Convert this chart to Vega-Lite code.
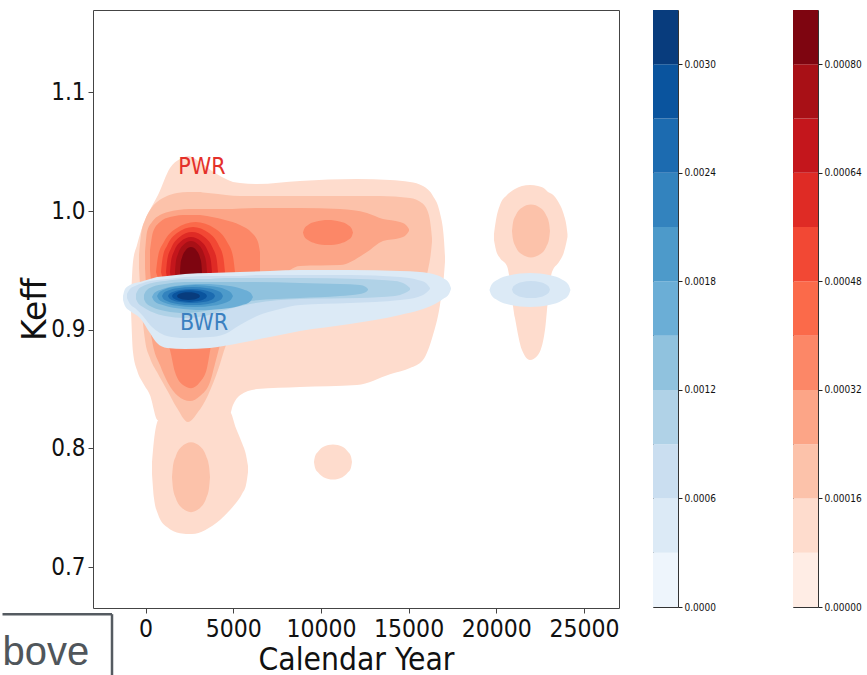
{
  "$schema": "https://vega.github.io/schema/vega-lite/v6.json",
  "padding": {"left": 0, "top": 9, "right": 0, "bottom": 0},
  "background": "white",
  "config": {"view": {"stroke": "#444"}},
  "bounds": "flush",
  "spacing": 34,
  "resolve": {"scale": {"fill": "independent"}},
  "hconcat": [
    {
      "width": 526,
      "height": 598,
      "view": {"stroke": "#444", "strokeWidth": 1},
      "data": {"values": [
        {"c":"r2","g":"a","x":-833,"y":0.9250,"y2":0.9166},
        {"c":"r2","g":"a","x":-719,"y":0.9571,"y2":0.8812},
        {"c":"r2","g":"a","x":-491,"y":0.9714,"y2":0.8660},
        {"c":"r2","g":"a","x":-149,"y":0.9883,"y2":0.8551},
        {"c":"r2","g":"a","x":251,"y":1.0009,"y2":0.8449},
        {"c":"r2","g":"a","x":707,"y":1.0135,"y2":0.8239},
        {"c":"r2","g":"a","x":1391,"y":1.0363,"y2":0.8239},
        {"c":"r2","g":"a","x":1962,"y":1.0439,"y2":0.8239},
        {"c":"r2","g":"a","x":2418,"y":1.0464,"y2":0.8239},
        {"c":"r2","g":"a","x":3102,"y":1.0414,"y2":0.8239},
        {"c":"r2","g":"a","x":3958,"y":1.0321,"y2":0.8239},
        {"c":"r2","g":"a","x":4699,"y":1.0262,"y2":0.8239},
        {"c":"r2","g":"a","x":4984,"y":1.0245,"y2":0.8365},
        {"c":"r2","g":"a","x":5383,"y":1.0237,"y2":0.8449},
        {"c":"r2","g":"a","x":6353,"y":1.0228,"y2":0.8500},
        {"c":"r2","g":"a","x":8805,"y":1.0254,"y2":0.8517},
        {"c":"r2","g":"a","x":12056,"y":1.0270,"y2":0.8534},
        {"c":"r2","g":"a","x":13938,"y":1.0262,"y2":0.8626},
        {"c":"r2","g":"a","x":15079,"y":1.0245,"y2":0.8677},
        {"c":"r2","g":"a","x":15820,"y":1.0211,"y2":0.8745},
        {"c":"r2","g":"a","x":16390,"y":1.0127,"y2":0.8955},
        {"c":"r2","g":"a","x":16789,"y":0.9984,"y2":0.9208},
        {"c":"r2","g":"a","x":17018,"y":0.9756,"y2":0.9461},
        {"c":"r2","g":"a","x":17075,"y":0.9621,"y2":0.9571},
        {"c":"r2","g":"b","x":365,"y":0.7885,"y2":0.7784},
        {"c":"r2","g":"b","x":479,"y":0.8070,"y2":0.7581},
        {"c":"r2","g":"b","x":707,"y":0.8239,"y2":0.7446},
        {"c":"r2","g":"b","x":1220,"y":0.8323,"y2":0.7337},
        {"c":"r2","g":"b","x":1962,"y":0.8323,"y2":0.7286},
        {"c":"r2","g":"b","x":2646,"y":0.8323,"y2":0.7278},
        {"c":"r2","g":"b","x":3387,"y":0.8323,"y2":0.7311},
        {"c":"r2","g":"b","x":4243,"y":0.8323,"y2":0.7396},
        {"c":"r2","g":"b","x":4813,"y":0.8306,"y2":0.7480},
        {"c":"r2","g":"b","x":5155,"y":0.8171,"y2":0.7539},
        {"c":"r2","g":"b","x":5497,"y":0.8045,"y2":0.7615},
        {"c":"r2","g":"b","x":5726,"y":0.7944,"y2":0.7691},
        {"c":"r2","g":"b","x":5840,"y":0.7851,"y2":0.7800},
        {"c":"r2","g":"c","x":9604,"y":0.7885,"y2":0.7885},
        {"c":"r2","g":"c","x":9661,"y":0.7931,"y2":0.7838},
        {"c":"r2","g":"c","x":9843,"y":0.7973,"y2":0.7796},
        {"c":"r2","g":"c","x":10145,"y":0.8013,"y2":0.7757},
        {"c":"r2","g":"c","x":10687,"y":0.8032,"y2":0.7737},
        {"c":"r2","g":"c","x":11229,"y":0.8013,"y2":0.7757},
        {"c":"r2","g":"c","x":11531,"y":0.7973,"y2":0.7796},
        {"c":"r2","g":"c","x":11714,"y":0.7931,"y2":0.7838},
        {"c":"r2","g":"c","x":11771,"y":0.7885,"y2":0.7885},
        {"c":"r2","g":"d","x":19869,"y":0.9807,"y2":0.9756},
        {"c":"r2","g":"d","x":19983,"y":0.9925,"y2":0.9672},
        {"c":"r2","g":"d","x":20211,"y":1.0051,"y2":0.9604},
        {"c":"r2","g":"d","x":20610,"y":1.0135,"y2":0.9537},
        {"c":"r2","g":"d","x":21067,"y":1.0186,"y2":0.9099},
        {"c":"r2","g":"d","x":21466,"y":1.0211,"y2":0.8829},
        {"c":"r2","g":"d","x":21922,"y":1.0220,"y2":0.8745},
        {"c":"r2","g":"d","x":22378,"y":1.0211,"y2":0.8787},
        {"c":"r2","g":"d","x":22778,"y":1.0186,"y2":0.8997},
        {"c":"r2","g":"d","x":22949,"y":1.0161,"y2":0.9250},
        {"c":"r2","g":"d","x":23177,"y":1.0144,"y2":0.9486},
        {"c":"r2","g":"d","x":23576,"y":1.0068,"y2":0.9571},
        {"c":"r2","g":"d","x":23861,"y":0.9967,"y2":0.9655},
        {"c":"r2","g":"d","x":24004,"y":0.9874,"y2":0.9739},
        {"c":"r2","g":"d","x":24061,"y":0.9807,"y2":0.9781},
        {"c":"r3","g":"a","x":-377,"y":0.9630,"y2":0.9520},
        {"c":"r3","g":"a","x":-263,"y":0.9798,"y2":0.9250},
        {"c":"r3","g":"a","x":-34,"y":0.9925,"y2":0.8913},
        {"c":"r3","g":"a","x":251,"y":1.0009,"y2":0.8761},
        {"c":"r3","g":"a","x":650,"y":1.0076,"y2":0.8643},
        {"c":"r3","g":"a","x":1220,"y":1.0127,"y2":0.8492},
        {"c":"r3","g":"a","x":1791,"y":1.0152,"y2":0.8340},
        {"c":"r3","g":"a","x":2418,"y":1.0161,"y2":0.8222},
        {"c":"r3","g":"a","x":2988,"y":1.0161,"y2":0.8306},
        {"c":"r3","g":"a","x":3558,"y":1.0152,"y2":0.8449},
        {"c":"r3","g":"a","x":4129,"y":1.0144,"y2":0.8660},
        {"c":"r3","g":"a","x":4585,"y":1.0135,"y2":0.8871},
        {"c":"r3","g":"a","x":5383,"y":1.0127,"y2":0.9082},
        {"c":"r3","g":"a","x":8805,"y":1.0127,"y2":0.9250},
        {"c":"r3","g":"a","x":13368,"y":1.0127,"y2":0.9250},
        {"c":"r3","g":"a","x":15079,"y":1.0110,"y2":0.9292},
        {"c":"r3","g":"a","x":15763,"y":1.0068,"y2":0.9377},
        {"c":"r3","g":"a","x":16105,"y":0.9992,"y2":0.9503},
        {"c":"r3","g":"a","x":16276,"y":0.9857,"y2":0.9655},
        {"c":"r3","g":"a","x":16333,"y":0.9773,"y2":0.9739},
        {"c":"r3","g":"b","x":1505,"y":0.7758,"y2":0.7758},
        {"c":"r3","g":"b","x":1562,"y":0.7851,"y2":0.7665},
        {"c":"r3","g":"b","x":1722,"y":0.7935,"y2":0.7581},
        {"c":"r3","g":"b","x":2047,"y":0.8014,"y2":0.7503},
        {"c":"r3","g":"b","x":2589,"y":0.8053,"y2":0.7463},
        {"c":"r3","g":"b","x":3131,"y":0.8014,"y2":0.7503},
        {"c":"r3","g":"b","x":3456,"y":0.7935,"y2":0.7581},
        {"c":"r3","g":"b","x":3616,"y":0.7851,"y2":0.7665},
        {"c":"r3","g":"b","x":3673,"y":0.7758,"y2":0.7758},
        {"c":"r3","g":"c","x":20896,"y":0.9832,"y2":0.9832},
        {"c":"r3","g":"c","x":20953,"y":0.9902,"y2":0.9762},
        {"c":"r3","g":"c","x":21112,"y":0.9966,"y2":0.9698},
        {"c":"r3","g":"c","x":21437,"y":1.0026,"y2":0.9638},
        {"c":"r3","g":"c","x":21979,"y":1.0055,"y2":0.9609},
        {"c":"r3","g":"c","x":22521,"y":1.0026,"y2":0.9638},
        {"c":"r3","g":"c","x":22846,"y":0.9966,"y2":0.9698},
        {"c":"r3","g":"c","x":23006,"y":0.9902,"y2":0.9762},
        {"c":"r3","g":"c","x":23063,"y":0.9832,"y2":0.9832},
        {"c":"r4","g":"a","x":-34,"y":0.9655,"y2":0.9520},
        {"c":"r4","g":"a","x":80,"y":0.9824,"y2":0.9250},
        {"c":"r4","g":"a","x":365,"y":0.9908,"y2":0.8913},
        {"c":"r4","g":"a","x":821,"y":0.9967,"y2":0.8702},
        {"c":"r4","g":"a","x":1277,"y":0.9992,"y2":0.8551},
        {"c":"r4","g":"a","x":1848,"y":1.0009,"y2":0.8441},
        {"c":"r4","g":"a","x":2532,"y":1.0017,"y2":0.8399},
        {"c":"r4","g":"a","x":3102,"y":1.0017,"y2":0.8441},
        {"c":"r4","g":"a","x":3673,"y":1.0017,"y2":0.8559},
        {"c":"r4","g":"a","x":4015,"y":1.0017,"y2":0.8745},
        {"c":"r4","g":"a","x":4528,"y":1.0017,"y2":0.8997},
        {"c":"r4","g":"a","x":6524,"y":1.0026,"y2":0.9250},
        {"c":"r4","g":"a","x":8805,"y":1.0026,"y2":0.9537},
        {"c":"r4","g":"a","x":11086,"y":1.0017,"y2":0.9545},
        {"c":"r4","g":"a","x":12626,"y":0.9984,"y2":0.9655},
        {"c":"r4","g":"a","x":13539,"y":0.9933,"y2":0.9748},
        {"c":"r4","g":"a","x":14508,"y":0.9908,"y2":0.9773},
        {"c":"r4","g":"a","x":14850,"y":0.9883,"y2":0.9798},
        {"c":"r4","g":"a","x":15021,"y":0.9849,"y2":0.9832},
        {"c":"r5","g":"a","x":251,"y":0.9672,"y2":0.9503},
        {"c":"r5","g":"a","x":422,"y":0.9824,"y2":0.9250},
        {"c":"r5","g":"a","x":821,"y":0.9908,"y2":0.8997},
        {"c":"r5","g":"a","x":1391,"y":0.9950,"y2":0.8829},
        {"c":"r5","g":"a","x":1676,"y":0.9958,"y2":0.8643},
        {"c":"r5","g":"a","x":2133,"y":0.9967,"y2":0.8534},
        {"c":"r5","g":"a","x":2589,"y":0.9967,"y2":0.8508},
        {"c":"r5","g":"a","x":3102,"y":0.9967,"y2":0.8559},
        {"c":"r5","g":"a","x":3501,"y":0.9958,"y2":0.8677},
        {"c":"r5","g":"a","x":3787,"y":0.9950,"y2":0.8913},
        {"c":"r5","g":"a","x":4528,"y":0.9925,"y2":0.9250},
        {"c":"r5","g":"a","x":5383,"y":0.9883,"y2":0.9250},
        {"c":"r5","g":"a","x":6068,"y":0.9815,"y2":0.9250},
        {"c":"r5","g":"a","x":6410,"y":0.9739,"y2":0.9335},
        {"c":"r5","g":"a","x":6524,"y":0.9655,"y2":0.9419},
        {"c":"r5","g":"b","x":8976,"y":0.9819,"y2":0.9819},
        {"c":"r5","g":"b","x":9048,"y":0.9852,"y2":0.9786},
        {"c":"r5","g":"b","x":9261,"y":0.9883,"y2":0.9756},
        {"c":"r5","g":"b","x":9689,"y":0.9910,"y2":0.9728},
        {"c":"r5","g":"b","x":10402,"y":0.9925,"y2":0.9714},
        {"c":"r5","g":"b","x":11115,"y":0.9910,"y2":0.9728},
        {"c":"r5","g":"b","x":11543,"y":0.9883,"y2":0.9756},
        {"c":"r5","g":"b","x":11756,"y":0.9852,"y2":0.9786},
        {"c":"r5","g":"b","x":11828,"y":0.9819,"y2":0.9819},
        {"c":"r6","g":"a","x":593,"y":0.9486,"y2":0.9486},
        {"c":"r6","g":"a","x":707,"y":0.9618,"y2":0.9439},
        {"c":"r6","g":"a","x":1043,"y":0.9739,"y2":0.9395},
        {"c":"r6","g":"a","x":1719,"y":0.9851,"y2":0.9355},
        {"c":"r6","g":"a","x":2846,"y":0.9908,"y2":0.9335},
        {"c":"r6","g":"a","x":3972,"y":0.9851,"y2":0.9355},
        {"c":"r6","g":"a","x":4648,"y":0.9739,"y2":0.9395},
        {"c":"r6","g":"a","x":4984,"y":0.9618,"y2":0.9439},
        {"c":"r6","g":"a","x":5098,"y":0.9486,"y2":0.9486},
        {"c":"r7","g":"a","x":878,"y":0.9486,"y2":0.9486},
        {"c":"r7","g":"a","x":969,"y":0.9604,"y2":0.9439},
        {"c":"r7","g":"a","x":1243,"y":0.9714,"y2":0.9395},
        {"c":"r7","g":"a","x":1791,"y":0.9815,"y2":0.9355},
        {"c":"r7","g":"a","x":2703,"y":0.9866,"y2":0.9335},
        {"c":"r7","g":"a","x":3616,"y":0.9815,"y2":0.9355},
        {"c":"r7","g":"a","x":4163,"y":0.9714,"y2":0.9395},
        {"c":"r7","g":"a","x":4437,"y":0.9604,"y2":0.9439},
        {"c":"r7","g":"a","x":4528,"y":0.9486,"y2":0.9486},
        {"c":"r8","g":"a","x":1163,"y":0.9486,"y2":0.9486},
        {"c":"r8","g":"a","x":1237,"y":0.9592,"y2":0.9439},
        {"c":"r8","g":"a","x":1460,"y":0.9689,"y2":0.9395},
        {"c":"r8","g":"a","x":1905,"y":0.9778,"y2":0.9355},
        {"c":"r8","g":"a","x":2646,"y":0.9824,"y2":0.9335},
        {"c":"r8","g":"a","x":3387,"y":0.9778,"y2":0.9355},
        {"c":"r8","g":"a","x":3832,"y":0.9689,"y2":0.9395},
        {"c":"r8","g":"a","x":4055,"y":0.9592,"y2":0.9439},
        {"c":"r8","g":"a","x":4129,"y":0.9486,"y2":0.9486},
        {"c":"r9","g":"a","x":1391,"y":0.9486,"y2":0.9486},
        {"c":"r9","g":"a","x":1451,"y":0.9578,"y2":0.9439},
        {"c":"r9","g":"a","x":1631,"y":0.9663,"y2":0.9395},
        {"c":"r9","g":"a","x":1990,"y":0.9742,"y2":0.9355},
        {"c":"r9","g":"a","x":2589,"y":0.9781,"y2":0.9335},
        {"c":"r9","g":"a","x":3188,"y":0.9742,"y2":0.9355},
        {"c":"r9","g":"a","x":3547,"y":0.9663,"y2":0.9395},
        {"c":"r9","g":"a","x":3727,"y":0.9578,"y2":0.9439},
        {"c":"r9","g":"a","x":3787,"y":0.9486,"y2":0.9486},
        {"c":"r10","g":"a","x":1676,"y":0.9486,"y2":0.9486},
        {"c":"r10","g":"a","x":1722,"y":0.9568,"y2":0.9439},
        {"c":"r10","g":"a","x":1859,"y":0.9643,"y2":0.9395},
        {"c":"r10","g":"a","x":2133,"y":0.9712,"y2":0.9355},
        {"c":"r10","g":"a","x":2589,"y":0.9748,"y2":0.9335},
        {"c":"r10","g":"a","x":3045,"y":0.9712,"y2":0.9355},
        {"c":"r10","g":"a","x":3319,"y":0.9643,"y2":0.9395},
        {"c":"r10","g":"a","x":3456,"y":0.9568,"y2":0.9439},
        {"c":"r10","g":"a","x":3501,"y":0.9486,"y2":0.9486},
        {"c":"r11","g":"a","x":1962,"y":0.9486,"y2":0.9486},
        {"c":"r11","g":"a","x":1993,"y":0.9552,"y2":0.9439},
        {"c":"r11","g":"a","x":2087,"y":0.9613,"y2":0.9395},
        {"c":"r11","g":"a","x":2275,"y":0.9669,"y2":0.9355},
        {"c":"r11","g":"a","x":2589,"y":0.9697,"y2":0.9335},
        {"c":"r11","g":"a","x":2903,"y":0.9669,"y2":0.9355},
        {"c":"r11","g":"a","x":3091,"y":0.9613,"y2":0.9395},
        {"c":"r11","g":"a","x":3185,"y":0.9552,"y2":0.9439},
        {"c":"r11","g":"a","x":3216,"y":0.9486,"y2":0.9486},
        {"c":"b2","g":"a","x":-1289,"y":0.9284,"y2":0.9250},
        {"c":"b2","g":"a","x":-1175,"y":0.9343,"y2":0.9200},
        {"c":"b2","g":"a","x":-890,"y":0.9377,"y2":0.9158},
        {"c":"b2","g":"a","x":-320,"y":0.9402,"y2":0.9099},
        {"c":"b2","g":"a","x":251,"y":0.9427,"y2":0.8972},
        {"c":"b2","g":"a","x":650,"y":0.9444,"y2":0.8888},
        {"c":"b2","g":"a","x":1220,"y":0.9453,"y2":0.8846},
        {"c":"b2","g":"a","x":2247,"y":0.9470,"y2":0.8837},
        {"c":"b2","g":"a","x":3673,"y":0.9478,"y2":0.8846},
        {"c":"b2","g":"a","x":5383,"y":0.9486,"y2":0.8888},
        {"c":"b2","g":"a","x":7094,"y":0.9495,"y2":0.8938},
        {"c":"b2","g":"a","x":8805,"y":0.9503,"y2":0.8989},
        {"c":"b2","g":"a","x":11657,"y":0.9503,"y2":0.9048},
        {"c":"b2","g":"a","x":14508,"y":0.9495,"y2":0.9124},
        {"c":"b2","g":"a","x":15649,"y":0.9486,"y2":0.9166},
        {"c":"b2","g":"a","x":16390,"y":0.9470,"y2":0.9208},
        {"c":"b2","g":"a","x":16960,"y":0.9436,"y2":0.9259},
        {"c":"b2","g":"a","x":17303,"y":0.9394,"y2":0.9301},
        {"c":"b2","g":"a","x":17417,"y":0.9351,"y2":0.9343},
        {"c":"b2","g":"r","x":19612,"y":0.9335,"y2":0.9335},
        {"c":"b2","g":"r","x":19726,"y":0.9380,"y2":0.9290},
        {"c":"b2","g":"r","x":20074,"y":0.9421,"y2":0.9249},
        {"c":"b2","g":"r","x":20767,"y":0.9459,"y2":0.9211},
        {"c":"b2","g":"r","x":21922,"y":0.9478,"y2":0.9192},
        {"c":"b2","g":"r","x":23077,"y":0.9459,"y2":0.9211},
        {"c":"b2","g":"r","x":23770,"y":0.9421,"y2":0.9249},
        {"c":"b2","g":"r","x":24118,"y":0.9380,"y2":0.9290},
        {"c":"b2","g":"r","x":24232,"y":0.9335,"y2":0.9335},
        {"c":"b3","g":"a","x":-1061,"y":0.9301,"y2":0.9267},
        {"c":"b3","g":"a","x":-890,"y":0.9343,"y2":0.9217},
        {"c":"b3","g":"a","x":-605,"y":0.9368,"y2":0.9183},
        {"c":"b3","g":"a","x":-149,"y":0.9394,"y2":0.9115},
        {"c":"b3","g":"a","x":251,"y":0.9410,"y2":0.9040},
        {"c":"b3","g":"a","x":650,"y":0.9419,"y2":0.8989},
        {"c":"b3","g":"a","x":1220,"y":0.9427,"y2":0.8947},
        {"c":"b3","g":"a","x":2247,"y":0.9444,"y2":0.8930},
        {"c":"b3","g":"a","x":3673,"y":0.9453,"y2":0.8938},
        {"c":"b3","g":"a","x":4528,"y":0.9453,"y2":0.8964},
        {"c":"b3","g":"a","x":5383,"y":0.9453,"y2":0.9040},
        {"c":"b3","g":"a","x":6353,"y":0.9461,"y2":0.9115},
        {"c":"b3","g":"a","x":7665,"y":0.9461,"y2":0.9174},
        {"c":"b3","g":"a","x":8805,"y":0.9461,"y2":0.9208},
        {"c":"b3","g":"a","x":11657,"y":0.9461,"y2":0.9225},
        {"c":"b3","g":"a","x":14508,"y":0.9444,"y2":0.9250},
        {"c":"b3","g":"a","x":15535,"y":0.9419,"y2":0.9276},
        {"c":"b3","g":"a","x":15991,"y":0.9394,"y2":0.9309},
        {"c":"b3","g":"a","x":16219,"y":0.9351,"y2":0.9343},
        {"c":"b3","g":"r","x":20896,"y":0.9339,"y2":0.9339},
        {"c":"b3","g":"r","x":20953,"y":0.9361,"y2":0.9317},
        {"c":"b3","g":"r","x":21112,"y":0.9382,"y2":0.9296},
        {"c":"b3","g":"r","x":21437,"y":0.9401,"y2":0.9277},
        {"c":"b3","g":"r","x":21979,"y":0.9411,"y2":0.9267},
        {"c":"b3","g":"r","x":22521,"y":0.9401,"y2":0.9277},
        {"c":"b3","g":"r","x":22846,"y":0.9382,"y2":0.9296},
        {"c":"b3","g":"r","x":23006,"y":0.9361,"y2":0.9317},
        {"c":"b3","g":"r","x":23063,"y":0.9339,"y2":0.9339},
        {"c":"b4","g":"a","x":-548,"y":0.9301,"y2":0.9259},
        {"c":"b4","g":"a","x":-434,"y":0.9335,"y2":0.9225},
        {"c":"b4","g":"a","x":-149,"y":0.9368,"y2":0.9191},
        {"c":"b4","g":"a","x":365,"y":0.9394,"y2":0.9149},
        {"c":"b4","g":"a","x":1106,"y":0.9410,"y2":0.9115},
        {"c":"b4","g":"a","x":2247,"y":0.9427,"y2":0.9099},
        {"c":"b4","g":"a","x":3387,"y":0.9427,"y2":0.9115},
        {"c":"b4","g":"a","x":4528,"y":0.9436,"y2":0.9166},
        {"c":"b4","g":"a","x":5954,"y":0.9436,"y2":0.9217},
        {"c":"b4","g":"a","x":8805,"y":0.9436,"y2":0.9259},
        {"c":"b4","g":"a","x":12227,"y":0.9427,"y2":0.9267},
        {"c":"b4","g":"a","x":14223,"y":0.9410,"y2":0.9284},
        {"c":"b4","g":"a","x":14793,"y":0.9385,"y2":0.9309},
        {"c":"b4","g":"a","x":15079,"y":0.9351,"y2":0.9335},
        {"c":"b5","g":"a","x":-92,"y":0.9292,"y2":0.9259},
        {"c":"b5","g":"a","x":23,"y":0.9326,"y2":0.9225},
        {"c":"b5","g":"a","x":365,"y":0.9360,"y2":0.9191},
        {"c":"b5","g":"a","x":1106,"y":0.9385,"y2":0.9158},
        {"c":"b5","g":"a","x":2247,"y":0.9402,"y2":0.9141},
        {"c":"b5","g":"a","x":3387,"y":0.9402,"y2":0.9158},
        {"c":"b5","g":"a","x":4528,"y":0.9402,"y2":0.9200},
        {"c":"b5","g":"a","x":5954,"y":0.9402,"y2":0.9242},
        {"c":"b5","g":"a","x":8805,"y":0.9394,"y2":0.9267},
        {"c":"b5","g":"a","x":11086,"y":0.9385,"y2":0.9284},
        {"c":"b5","g":"a","x":12227,"y":0.9377,"y2":0.9301},
        {"c":"b5","g":"a","x":12569,"y":0.9360,"y2":0.9318},
        {"c":"b5","g":"a","x":12683,"y":0.9343,"y2":0.9335},
        {"c":"b6","g":"a","x":365,"y":0.9276,"y2":0.9276},
        {"c":"b6","g":"a","x":507,"y":0.9311,"y2":0.9241},
        {"c":"b6","g":"a","x":941,"y":0.9342,"y2":0.9210},
        {"c":"b6","g":"a","x":1805,"y":0.9371,"y2":0.9181},
        {"c":"b6","g":"a","x":3245,"y":0.9386,"y2":0.9166},
        {"c":"b6","g":"a","x":4685,"y":0.9371,"y2":0.9181},
        {"c":"b6","g":"a","x":5549,"y":0.9342,"y2":0.9210},
        {"c":"b6","g":"a","x":5982,"y":0.9311,"y2":0.9241},
        {"c":"b6","g":"a","x":6125,"y":0.9276,"y2":0.9276},
        {"c":"b7","g":"a","x":650,"y":0.9284,"y2":0.9284},
        {"c":"b7","g":"a","x":758,"y":0.9313,"y2":0.9255},
        {"c":"b7","g":"a","x":1083,"y":0.9340,"y2":0.9228},
        {"c":"b7","g":"a","x":1734,"y":0.9364,"y2":0.9204},
        {"c":"b7","g":"a","x":2817,"y":0.9377,"y2":0.9191},
        {"c":"b7","g":"a","x":3901,"y":0.9364,"y2":0.9204},
        {"c":"b7","g":"a","x":4551,"y":0.9340,"y2":0.9228},
        {"c":"b7","g":"a","x":4876,"y":0.9313,"y2":0.9255},
        {"c":"b7","g":"a","x":4984,"y":0.9284,"y2":0.9284},
        {"c":"b8","g":"a","x":935,"y":0.9284,"y2":0.9284},
        {"c":"b8","g":"a","x":1021,"y":0.9308,"y2":0.9260},
        {"c":"b8","g":"a","x":1283,"y":0.9330,"y2":0.9239},
        {"c":"b8","g":"a","x":1805,"y":0.9350,"y2":0.9218},
        {"c":"b8","g":"a","x":2675,"y":0.9360,"y2":0.9208},
        {"c":"b8","g":"a","x":3544,"y":0.9350,"y2":0.9218},
        {"c":"b8","g":"a","x":4066,"y":0.9330,"y2":0.9239},
        {"c":"b8","g":"a","x":4328,"y":0.9308,"y2":0.9260},
        {"c":"b8","g":"a","x":4414,"y":0.9284,"y2":0.9284},
        {"c":"b9","g":"a","x":1277,"y":0.9284,"y2":0.9284},
        {"c":"b9","g":"a","x":1346,"y":0.9303,"y2":0.9266},
        {"c":"b9","g":"a","x":1545,"y":0.9319,"y2":0.9249},
        {"c":"b9","g":"a","x":1947,"y":0.9335,"y2":0.9233},
        {"c":"b9","g":"a","x":2617,"y":0.9343,"y2":0.9225},
        {"c":"b9","g":"a","x":3288,"y":0.9335,"y2":0.9233},
        {"c":"b9","g":"a","x":3690,"y":0.9319,"y2":0.9249},
        {"c":"b9","g":"a","x":3889,"y":0.9303,"y2":0.9266},
        {"c":"b9","g":"a","x":3958,"y":0.9284,"y2":0.9284},
        {"c":"b10","g":"a","x":1505,"y":0.9284,"y2":0.9284},
        {"c":"b10","g":"a","x":1557,"y":0.9299,"y2":0.9269},
        {"c":"b10","g":"a","x":1705,"y":0.9313,"y2":0.9255},
        {"c":"b10","g":"a","x":2004,"y":0.9326,"y2":0.9242},
        {"c":"b10","g":"a","x":2503,"y":0.9332,"y2":0.9235},
        {"c":"b10","g":"a","x":3002,"y":0.9326,"y2":0.9242},
        {"c":"b10","g":"a","x":3302,"y":0.9313,"y2":0.9255},
        {"c":"b10","g":"a","x":3450,"y":0.9299,"y2":0.9269},
        {"c":"b10","g":"a","x":3501,"y":0.9284,"y2":0.9284},
        {"c":"b11","g":"a","x":1791,"y":0.9284,"y2":0.9284},
        {"c":"b11","g":"a","x":1825,"y":0.9294,"y2":0.9274},
        {"c":"b11","g":"a","x":1922,"y":0.9303,"y2":0.9265},
        {"c":"b11","g":"a","x":2118,"y":0.9313,"y2":0.9255},
        {"c":"b11","g":"a","x":2446,"y":0.9317,"y2":0.9251},
        {"c":"b11","g":"a","x":2774,"y":0.9313,"y2":0.9255},
        {"c":"b11","g":"a","x":2971,"y":0.9303,"y2":0.9265},
        {"c":"b11","g":"a","x":3068,"y":0.9294,"y2":0.9274},
        {"c":"b11","g":"a","x":3102,"y":0.9284,"y2":0.9284}
      ]},
      "encoding": {
        "x": {"field": "x", "type": "quantitative",
          "scale": {"domain": [-3000, 27000], "nice": false, "zero": false},
          "axis": {"title": "Calendar Year", "values": [0, 5000, 10000, 15000, 20000, 25000], "format": "d",
            "grid": false, "domain": false, "ticks": true, "tickSize": 5, "tickColor": "#444", "labelFlush": false, "labelOverlap": false,
            "labelFont": "DejaVu Sans Condensed, DejaVu Sans", "labelFontSize": 24.5, "labelColor": "#111", "labelPadding": 4,
            "titleFont": "DejaVu Sans Condensed, DejaVu Sans", "titleFontSize": 31.5, "titleFontWeight": "normal", "titleColor": "#111", "titlePadding": 4}},
        "y": {"field": "y", "type": "quantitative", "stack": null,
          "scale": {"domain": [0.6655, 1.1695], "nice": false, "zero": false},
          "axis": {"title": "Keff", "values": [0.7, 0.8, 0.9, 1.0, 1.1], "format": ".1f",
            "grid": false, "domain": false, "ticks": true, "tickSize": 5, "tickColor": "#444", "labelFlush": false, "labelOverlap": false,
            "labelFont": "DejaVu Sans Condensed, DejaVu Sans", "labelFontSize": 24, "labelColor": "#111", "labelPadding": 3,
            "titleFont": "DejaVu Sans", "titleFontSize": 33, "titleFontWeight": "normal", "titleColor": "#111", "titlePadding": 5, "titleBaseline": "alphabetic"}}
      },
      "layer": [
        {"transform": [{"filter": {"field": "c", "equal": "r2"}}], "mark": {"type": "area", "interpolate": "monotone", "color": "#fedccd"}, "encoding": {"y2": {"field": "y2"}, "detail": {"field": "g", "type": "nominal"}}},
        {"transform": [{"filter": {"field": "c", "equal": "r3"}}], "mark": {"type": "area", "interpolate": "monotone", "color": "#fcc2aa"}, "encoding": {"y2": {"field": "y2"}, "detail": {"field": "g", "type": "nominal"}}},
        {"transform": [{"filter": {"field": "c", "equal": "r4"}}], "mark": {"type": "area", "interpolate": "monotone", "color": "#fca587"}, "encoding": {"y2": {"field": "y2"}, "detail": {"field": "g", "type": "nominal"}}},
        {"transform": [{"filter": {"field": "c", "equal": "r5"}}], "mark": {"type": "area", "interpolate": "monotone", "color": "#fc8767"}, "encoding": {"y2": {"field": "y2"}, "detail": {"field": "g", "type": "nominal"}}},
        {"transform": [{"filter": {"field": "c", "equal": "r6"}}], "mark": {"type": "area", "interpolate": "monotone", "color": "#fb6a4a"}, "encoding": {"y2": {"field": "y2"}, "detail": {"field": "g", "type": "nominal"}}},
        {"transform": [{"filter": {"field": "c", "equal": "r7"}}], "mark": {"type": "area", "interpolate": "monotone", "color": "#f24834"}, "encoding": {"y2": {"field": "y2"}, "detail": {"field": "g", "type": "nominal"}}},
        {"transform": [{"filter": {"field": "c", "equal": "r8"}}], "mark": {"type": "area", "interpolate": "monotone", "color": "#df2b25"}, "encoding": {"y2": {"field": "y2"}, "detail": {"field": "g", "type": "nominal"}}},
        {"transform": [{"filter": {"field": "c", "equal": "r9"}}], "mark": {"type": "area", "interpolate": "monotone", "color": "#c4161c"}, "encoding": {"y2": {"field": "y2"}, "detail": {"field": "g", "type": "nominal"}}},
        {"transform": [{"filter": {"field": "c", "equal": "r10"}}], "mark": {"type": "area", "interpolate": "monotone", "color": "#a81016"}, "encoding": {"y2": {"field": "y2"}, "detail": {"field": "g", "type": "nominal"}}},
        {"transform": [{"filter": {"field": "c", "equal": "r11"}}], "mark": {"type": "area", "interpolate": "monotone", "color": "#7e0510"}, "encoding": {"y2": {"field": "y2"}, "detail": {"field": "g", "type": "nominal"}}},
        {"transform": [{"filter": {"field": "c", "equal": "b2"}}], "mark": {"type": "area", "interpolate": "monotone", "color": "#dceaf6"}, "encoding": {"y2": {"field": "y2"}, "detail": {"field": "g", "type": "nominal"}}},
        {"transform": [{"filter": {"field": "c", "equal": "b3"}}], "mark": {"type": "area", "interpolate": "monotone", "color": "#cadef0"}, "encoding": {"y2": {"field": "y2"}, "detail": {"field": "g", "type": "nominal"}}},
        {"transform": [{"filter": {"field": "c", "equal": "b4"}}], "mark": {"type": "area", "interpolate": "monotone", "color": "#b0d2e7"}, "encoding": {"y2": {"field": "y2"}, "detail": {"field": "g", "type": "nominal"}}},
        {"transform": [{"filter": {"field": "c", "equal": "b5"}}], "mark": {"type": "area", "interpolate": "monotone", "color": "#90c2de"}, "encoding": {"y2": {"field": "y2"}, "detail": {"field": "g", "type": "nominal"}}},
        {"transform": [{"filter": {"field": "c", "equal": "b6"}}], "mark": {"type": "area", "interpolate": "monotone", "color": "#6baed6"}, "encoding": {"y2": {"field": "y2"}, "detail": {"field": "g", "type": "nominal"}}},
        {"transform": [{"filter": {"field": "c", "equal": "b7"}}], "mark": {"type": "area", "interpolate": "monotone", "color": "#4d9aca"}, "encoding": {"y2": {"field": "y2"}, "detail": {"field": "g", "type": "nominal"}}},
        {"transform": [{"filter": {"field": "c", "equal": "b8"}}], "mark": {"type": "area", "interpolate": "monotone", "color": "#3383be"}, "encoding": {"y2": {"field": "y2"}, "detail": {"field": "g", "type": "nominal"}}},
        {"transform": [{"filter": {"field": "c", "equal": "b9"}}], "mark": {"type": "area", "interpolate": "monotone", "color": "#1c6bb0"}, "encoding": {"y2": {"field": "y2"}, "detail": {"field": "g", "type": "nominal"}}},
        {"transform": [{"filter": {"field": "c", "equal": "b10"}}], "mark": {"type": "area", "interpolate": "monotone", "color": "#0a549e"}, "encoding": {"y2": {"field": "y2"}, "detail": {"field": "g", "type": "nominal"}}},
        {"transform": [{"filter": {"field": "c", "equal": "b11"}}], "mark": {"type": "area", "interpolate": "monotone", "color": "#083c7d"}, "encoding": {"y2": {"field": "y2"}, "detail": {"field": "g", "type": "nominal"}}},
        {"data": {"values": [{"x": 3216, "y": 1.0372, "t": "PWR"}]}, "mark": {"type": "text", "color": "#e4302a", "fontSize": 23, "font": "DejaVu Sans Condensed, DejaVu Sans", "baseline": "middle", "align": "center"}, "encoding": {"text": {"field": "t"}}},
        {"data": {"values": [{"x": 3330, "y": 0.9056, "t": "BWR"}]}, "mark": {"type": "text", "color": "#3a80c0", "fontSize": 23, "font": "DejaVu Sans Condensed, DejaVu Sans", "baseline": "middle", "align": "center"}, "encoding": {"text": {"field": "t"}}},
        {"data": {"values": [{"x": -8161, "x2": -1916, "y": 0.6603}]}, "mark": {"type": "rule", "color": "#555b61", "strokeWidth": 2.5}, "encoding": {"x2": {"field": "x2"}}},
        {"data": {"values": [{"x": -1916, "y": 0.6603, "y2": 0.6047}]}, "mark": {"type": "rule", "color": "#555b61", "strokeWidth": 2.5}, "encoding": {"y2": {"field": "y2"}}},
        {"data": {"values": [{"x": -8161, "y": 0.6173, "t": "bove"}]}, "mark": {"type": "text", "color": "#50565b", "fontSize": 40, "font": "Liberation Sans", "baseline": "alphabetic", "align": "left"}, "encoding": {"text": {"field": "t"}}}
      ]
    },
    {
      "bounds": "flush",
      "spacing": 115,
      "resolve": {"scale": {"fill": "independent"}},
      "hconcat": [
        {
          "width": 25, "height": 597,
          "view": {"stroke": "#333"},
          "data": {"values": [
            {"lo":0,"hi":0.0003,"c":"b1"},{"lo":0.0003,"hi":0.0006,"c":"b2"},{"lo":0.0006,"hi":0.0009,"c":"b3"},
            {"lo":0.0009,"hi":0.0012,"c":"b4"},{"lo":0.0012,"hi":0.0015,"c":"b5"},{"lo":0.0015,"hi":0.0018,"c":"b6"},
            {"lo":0.0018,"hi":0.0021,"c":"b7"},{"lo":0.0021,"hi":0.0024,"c":"b8"},{"lo":0.0024,"hi":0.0027,"c":"b9"},
            {"lo":0.0027,"hi":0.003,"c":"b10"},{"lo":0.003,"hi":0.0033,"c":"b11"}
          ]},
          "mark": {"type": "rect"},
          "encoding": {
            "y": {"field": "lo", "type": "quantitative", "scale": {"domain": [0, 0.0033], "nice": false, "zero": false},
              "axis": {"orient": "right", "title": null, "values": [0, 0.0006, 0.0012, 0.0018, 0.0024, 0.003], "format": ".4f",
                "grid": false, "domain": false, "tickSize": 4, "tickColor": "#222", "labelFlush": false, "labelOverlap": false,
                "labelFont": "DejaVu Sans Condensed, DejaVu Sans", "labelFontSize": 10, "labelColor": "#111", "labelPadding": 2}},
            "y2": {"field": "hi"},
            "fill": {"field": "c", "type": "nominal", "legend": null,
              "scale": {"domain": ["b1","b2","b3","b4","b5","b6","b7","b8","b9","b10","b11"],
                "range": ["#eef5fc","#dceaf6","#cadef0","#b0d2e7","#90c2de","#6baed6","#4d9aca","#3383be","#1c6bb0","#0a549e","#083c7d"]}}
          }
        },
        {
          "width": 25, "height": 597,
          "view": {"stroke": "#333"},
          "data": {"values": [
            {"lo":0,"hi":0.00008,"c":"r1"},{"lo":0.00008,"hi":0.00016,"c":"r2"},{"lo":0.00016,"hi":0.00024,"c":"r3"},
            {"lo":0.00024,"hi":0.00032,"c":"r4"},{"lo":0.00032,"hi":0.0004,"c":"r5"},{"lo":0.0004,"hi":0.00048,"c":"r6"},
            {"lo":0.00048,"hi":0.00056,"c":"r7"},{"lo":0.00056,"hi":0.00064,"c":"r8"},{"lo":0.00064,"hi":0.00072,"c":"r9"},
            {"lo":0.00072,"hi":0.0008,"c":"r10"},{"lo":0.0008,"hi":0.00088,"c":"r11"}
          ]},
          "mark": {"type": "rect"},
          "encoding": {
            "y": {"field": "lo", "type": "quantitative", "scale": {"domain": [0, 0.00088], "nice": false, "zero": false},
              "axis": {"orient": "right", "title": null, "values": [0, 0.00016, 0.00032, 0.00048, 0.00064, 0.0008], "format": ".5f",
                "grid": false, "domain": false, "tickSize": 4, "tickColor": "#222", "labelFlush": false, "labelOverlap": false,
                "labelFont": "DejaVu Sans Condensed, DejaVu Sans", "labelFontSize": 10, "labelColor": "#111", "labelPadding": 2}},
            "y2": {"field": "hi"},
            "fill": {"field": "c", "type": "nominal", "legend": null,
              "scale": {"domain": ["r1","r2","r3","r4","r5","r6","r7","r8","r9","r10","r11"],
                "range": ["#ffede5","#fedccd","#fcc2aa","#fca587","#fc8767","#fb6a4a","#f24834","#df2b25","#c4161c","#a81016","#7e0510"]}}
          }
        }
      ]
    }
  ]
}
